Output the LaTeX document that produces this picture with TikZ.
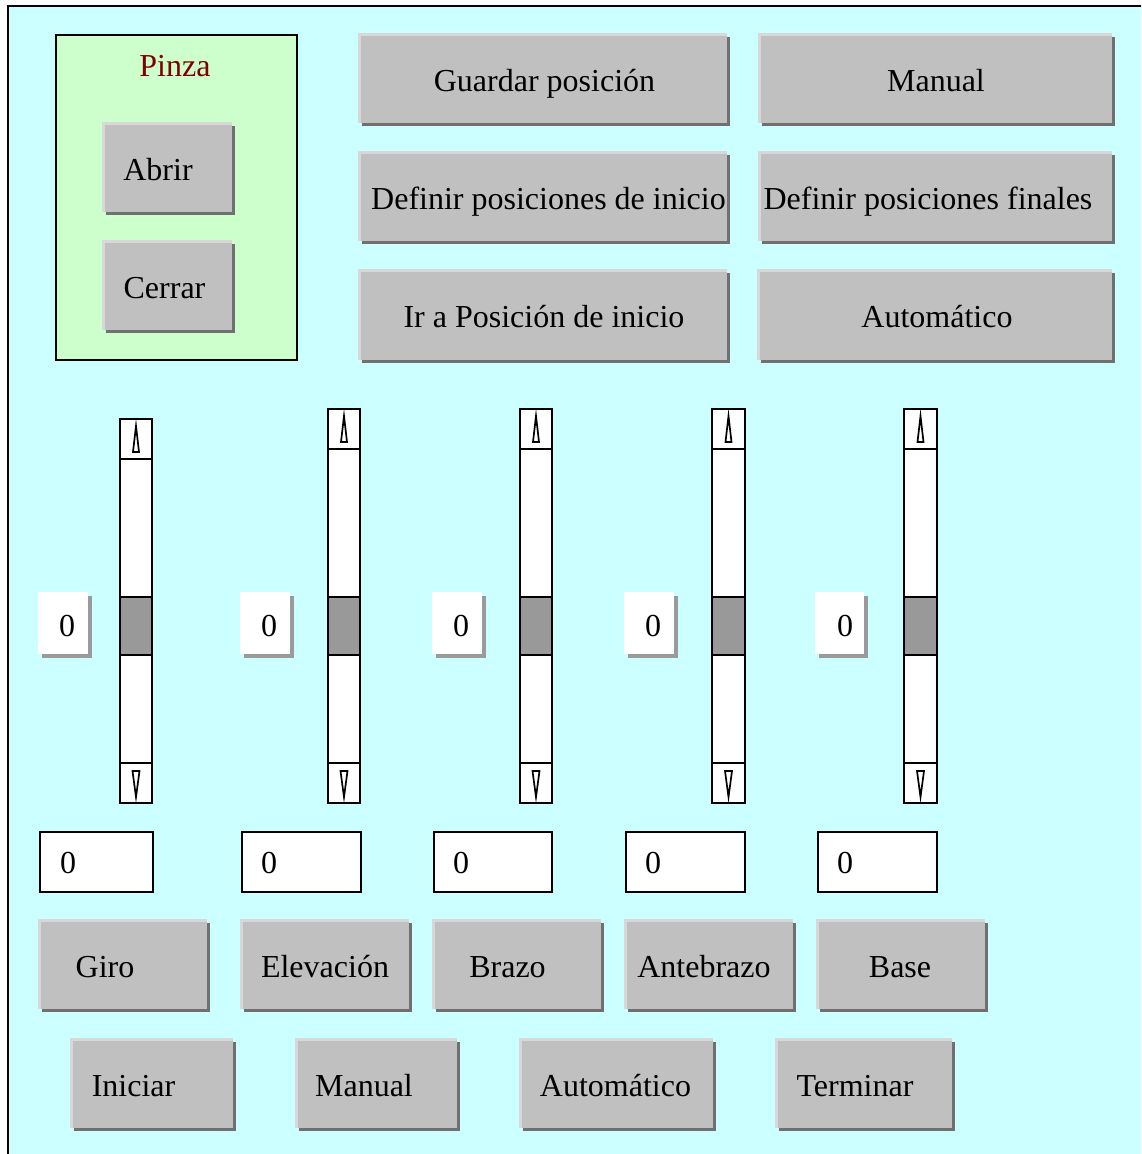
\documentclass[tikz,border=0pt]{standalone}
\usepackage{fontspec}
\setmainfont{Liberation Serif}
\definecolor{formbg}{HTML}{CCFFFF}
\definecolor{groupbg}{HTML}{CCFFCC}
\definecolor{btngray}{HTML}{C0C0C0}
\definecolor{btnlight}{HTML}{D8D8D8}
\definecolor{btndark}{HTML}{707070}
\definecolor{thumbgray}{HTML}{999999}
\definecolor{lblshadow}{HTML}{9A9A9A}
\definecolor{titlered}{HTML}{800000}
\newcommand\uifont{\fontsize{32}{38}\selectfont}
\tikzset{
  face/.style={fill=btngray, draw=none, inner sep=0pt},
  txt/.style={font=\uifont, anchor=base, inner sep=0pt, text=black},
  sl/.style={draw=black, line width=1.6pt},
  tri/.style={draw=black, fill=white, line width=1.7pt, line join=miter},
}
% raised button: name, x0, y0, x1, y1, text centre x, caption
\newcommand\vbbutton[7]{%
  \fill[btndark] (#2+4,#3+4) rectangle (#4+3,#5+3);
  \fill[btnlight] (#2,#3) rectangle (#4,#5);
  \node[face, minimum width=#4-#2-3, minimum height=#5-#3-3] (#1)
    at ({(#2+#4+3)/2},{(#3+#5+3)/2}) {};
  \node[txt] (#1-t) at (#6,#3+58) {#7};
}
% vertical scroll bar: x0, x1, top
\newcommand\vscroll[3]{%
  \filldraw[sl, fill=white] (#1,#3) rectangle (#2,803);
  \draw[sl] (#1,#3+40) -- (#2,#3+40);
  \draw[sl] (#1,763) -- (#2,763);
  \filldraw[sl, fill=thumbgray] (#1,597) rectangle (#2,655);
  \draw[tri] ({(#1+#2)/2},#3+7) -- ({(#1+#2)/2-3},#3+33) -- ({(#1+#2)/2+3},#3+33) -- cycle;
  \draw[tri] ({(#1+#2)/2-3.5},771) -- ({(#1+#2)/2+3.5},771) -- ({(#1+#2)/2},797) -- cycle;
}
% value label with drop shadow: name, x0, x1, text x
\newcommand\vallabel[4]{%
  \fill[lblshadow] (#2+4,596) rectangle (#3+4,658);
  \fill[white] (#2,592) rectangle (#3,654);
  \node[txt] (#1) at (#4,636) {0};
}
% text box: name, x0, x1, text x
\newcommand\valbox[4]{%
  \filldraw[draw=black, line width=1.6pt, fill=white] (#2,832) rectangle (#3,892);
  \node[txt] (#1) at (#4,873) {0};
}
\begin{document}
\begin{tikzpicture}[x=1pt,y=-1pt]
\useasboundingbox (0,0) rectangle (1141,1154);
\fill[white] (0,0) rectangle (1141,1154);
\begin{scope}
  \clip (0,0) rectangle (1141,1154);
  \filldraw[draw=black, line width=2pt, fill=formbg] (8,6) rectangle (1170,1180);
\end{scope}

% gripper group
\filldraw[draw=black, line width=1.6pt, fill=groupbg] (56,35) rectangle (297,360);
\node[txt, text=titlered] (pinza) at (175,76) {Pinza};
\vbbutton{abrir}{102}{122}{232}{212}{158}{Abrir}
\vbbutton{cerrar}{102}{240}{232}{330}{164.5}{Cerrar}

% command buttons, top
\vbbutton{guardar}{358}{33}{727}{123}{544.5}{Guardar posición}
\vbbutton{manualA}{758}{33}{1112}{123}{936}{Manual}
\vbbutton{definicio}{358}{151}{727}{241}{548.5}{Definir posiciones de inicio}
\vbbutton{deffinal}{758}{151}{1112}{241}{928}{Definir posiciones finales}
\vbbutton{irinicio}{358}{269}{727}{360}{544}{Ir a Posición de inicio}
\vbbutton{autoA}{757}{269}{1112}{360}{937}{Automático}

% joint scroll bars
\vscroll{120}{152}{419}
\vscroll{328}{360}{409}
\vscroll{520}{552}{409}
\vscroll{712}{745}{409}
\vscroll{904}{937}{409}

% value labels
\vallabel{v1}{38}{88}{67}
\vallabel{v2}{240}{290}{269}
\vallabel{v3}{432}{482}{461}
\vallabel{v4}{624}{674}{653}
\vallabel{v5}{815}{864}{845}

% value text boxes
\valbox{t1}{40}{153}{68}
\valbox{t2}{242}{361}{269}
\valbox{t3}{434}{552}{461}
\valbox{t4}{626}{745}{653}
\valbox{t5}{818}{937}{845}

% joint buttons
\vbbutton{giro}{38}{919}{207}{1009}{105}{Giro}
\vbbutton{elev}{240}{919}{409}{1009}{325}{Elevación}
\vbbutton{brazo}{432}{919}{601}{1009}{507.5}{Brazo}
\vbbutton{antebrazo}{624}{919}{793}{1009}{704}{Antebrazo}
\vbbutton{base}{816}{919}{985}{1009}{900}{Base}

% mode buttons
\vbbutton{iniciar}{70}{1038}{233}{1128}{133.5}{Iniciar}
\vbbutton{manualB}{295}{1038}{457}{1128}{364}{Manual}
\vbbutton{autoB}{519}{1038}{713}{1128}{615.5}{Automático}
\vbbutton{terminar}{775}{1038}{952}{1128}{855}{Terminar}
\end{tikzpicture}
\end{document}
